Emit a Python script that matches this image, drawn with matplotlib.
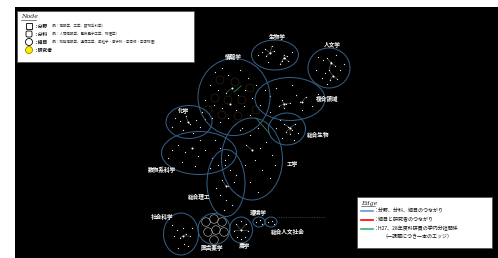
import matplotlib
matplotlib.use("Agg")
import matplotlib.pyplot as plt
from matplotlib.patches import Ellipse, Rectangle, Circle, FancyBboxPatch

plt.rcParams['font.family'] = ['Noto Sans CJK JP', 'DejaVu Sans']

# ---- cluster (分野) ellipses: name, centre x, centre y, width, height ----
cluster_names = ["生物学", "人文学", "情報学", "複合領域", "化学", "総合生物",
                 "数物系科学", "工学", "総合理工", "社会科学", "医歯薬学", "農学",
                 "環境学", "総合人文社会"]
cluster_cx = [275, 329, 234, 290, 189, 287, 199, 252, 226, 181, 214, 241, 259, 271]
cluster_cy = [55, 68, 97, 99, 122, 129, 153, 159, 183, 234, 229, 230, 222, 222]
cluster_w = [47, 42, 72, 70, 46, 37, 75, 61, 38, 35, 32, 23, 12, 12]
cluster_h = [30, 40, 77, 43, 33, 32, 43, 82, 67, 42, 31, 26, 10, 10]
label_x = [277, 332, 233, 327, 184, 318, 162, 292, 199, 162, 212, 244, 258, 288]
label_y = [37, 45, 57, 99, 111, 135, 170, 164, 197, 217, 248, 246, 213, 232]

# ---- nodes (細目 / 研究者) ----
bio = [(262,52),(258,55),(265,49),(266,56),(272,46),(274,51),(270,53),(285,58),(282,61),
       (288,61),(284,55),(287,56),(280,64),(292,52),(268,62)]
hum = [(318,57),(323,60),(327,58),(331,62),(335,66),(329,70),(325,73),(333,76),(337,79),
       (330,80),(322,78),(340,70),(344,64),(316,70),(336,55),(327,84)]
info = [(215,72),(222,68),(228,75),(240,70),(248,78),(210,85),(218,90),(226,93),(232,88),
        (238,95),(245,90),(252,98),(205,100),(214,105),(222,108),(230,104),(236,110),
        (244,106),(250,115),(212,118),(220,122),(228,118),(235,124),(242,128),(256,85),(260,105)]
info_sub = [(220,80),(235,82),(250,88),(215,98),(228,100),(242,100),(222,115),(238,116),
            (208,110),(256,110)]
comp = [(265,90),(270,96),(276,88),(282,100),(286,104),(284,108),(290,103),(279,106),
        (296,95),(300,102),(306,97),(312,106),(302,110),(270,112),(292,85),(318,94)]
chem = [(175,118),(180,121),(186,116),(190,124),(196,120),(200,127),(205,119),(183,130),
        (193,133),(172,127),(202,112)]
ibio = [(280,120),(284,124),(288,127),(292,130),(290,134),(286,132),(295,124),(298,133),
        (282,138),(276,128),(294,140)]
math = [(172,150),(178,145),(185,152),(192,148),(198,156),(205,150),(212,158),(220,148),
        (228,155),(182,162),(195,166),(210,168),(225,165),(168,158),(200,140),(215,140)]
eng = [(240,130),(250,135),(258,128),(246,145),(252,150),(260,148),(266,142),(272,155),
       (255,160),(245,165),(262,170),(270,178),(250,182),(258,192),(236,175),(275,165)]
sci = [(218,165),(225,160),(230,170),(222,180),(228,186),(234,182),(220,195),(226,200),
       (232,205),(216,188),(238,195),(224,210)]
soc = [(172,225),(177,230),(183,228),(186,234),(180,238),(190,236),(184,244),(178,248),
       (174,236),(192,228),(188,246)]
med_sub = [(206,222),(214,219),(222,222),(208,232),(216,230),(224,232),(214,240)]
agri = [(241,230),(236,224),(246,224),(234,231),(248,231),(237,237),(245,237),(241,221),(241,239)]
env = [(256,222),(260,220),(262,224)]
hs = [(268,222),(272,221),(274,224)]
hubs = [(270,53),(284,58),(331,63),(333,76),(232,88),(230,104),(284,104),(302,102),
        (188,122),(290,128),(192,148),(252,150),(226,186),(183,236),(241,230)]
green_edges = [((234,92),(241,86)), ((256,118),(269,133))]

all_nodes = bio + hum + info + comp + chem + ibio + math + eng + sci + soc + agri + env + hs

# ---- legends ----
node_rows = [("：分野", "（例：情報学、工学、数物系科学）"),
             ("：分科", "（例：人間情報学、電気電子工学、物理学）"),
             ("：細目", "（例：知能情報学、通信工学、素粒子・原子核・宇宙線・宇宙物理）"),
             ("：研究者", "")]
edge_rows = ["：分野、分科、細目のつながり", "：細目と研究者のつながり",
             "：H27、28年度科研費の学内分担関係"]
edge_note = "（一課題につき一本のエッジ）"
edge_colors = ["#5b9bd5", "#ff0000", "#3cb371"]

W, H = 498, 258
fig = plt.figure(figsize=(W / 100, H / 100), dpi=100)
ax = fig.add_axes([0, 0, 1, 1])
ax.set_xlim(0, W)
ax.set_ylim(H, 0)
ax.axis('off')
fig.patch.set_facecolor('white')

ax.add_patch(Rectangle((15, 7), W - 15, H - 7, facecolor='black', edgecolor='none', zorder=0))

# spoke edges from hubs
for hx, hy in hubs:
    for x, y in all_nodes:
        d = ((x - hx) ** 2 + (y - hy) ** 2) ** 0.5
        if 0 < d < 8:
            ax.plot([hx, x], [hy, y], color='#8a8a8a', lw=0.3, zorder=2)

for (x1, y1), (x2, y2) in green_edges:
    ax.plot([x1, x2], [y1, y2], color='#2e8b57', lw=0.6, zorder=2)

ax.plot([277, 325], [217, 217], color='#666666', lw=0.5, ls=(0, (1, 1.5)), zorder=2)

for x, y in info_sub:
    ax.add_patch(Circle((x, y), 4, facecolor='none', edgecolor='#3a2814', lw=0.4, zorder=2))
for x, y in med_sub:
    ax.add_patch(Circle((x, y), 4.3, facecolor='none', edgecolor='#b0b0b0', lw=0.45, zorder=2))

xs = [p[0] for p in all_nodes]
ys = [p[1] for p in all_nodes]
ax.scatter(xs, ys, s=0.8, color='#eeeeee', linewidths=0, zorder=3)
hx = [p[0] for p in hubs]
hy = [p[1] for p in hubs]
ax.scatter(hx, hy, s=2.0, color='white', linewidths=0, zorder=4)

for name, cx, cy, w, h, lx, ly in zip(cluster_names, cluster_cx, cluster_cy, cluster_w,
                                      cluster_h, label_x, label_y):
    ax.add_patch(Ellipse((cx, cy), w, h, facecolor='none', edgecolor='#345c82', lw=0.75, zorder=5))
    ax.text(lx, ly, name, color='white', fontsize=4.1, fontweight='bold',
            ha='center', va='center', zorder=6)

# Node legend
ax.add_patch(Rectangle((17, 11), 177, 51, facecolor='white', edgecolor='#555555', lw=0.6, zorder=7))
ax.text(21, 17, "Node", fontsize=4.5, style='italic', family='DejaVu Serif',
        color='#222222', va='center', ha='left', zorder=8)
ax.plot([21, 36], [20, 20], color='#222222', lw=0.4, zorder=8)
row_y = [26, 34, 42, 50]
for i, ((lab, ex), yy) in enumerate(zip(node_rows, row_y)):
    if i == 0:
        ax.add_patch(Rectangle((26, yy - 3), 6, 6, facecolor='white', edgecolor='black', lw=0.6, zorder=8))
    elif i == 1:
        ax.add_patch(FancyBboxPatch((26.5, yy - 2.5), 5, 5, boxstyle="round,pad=0.5,rounding_size=1.5",
                                    facecolor='white', edgecolor='black', lw=0.6, zorder=8))
    elif i == 2:
        ax.add_patch(Ellipse((29, yy), 7, 7, facecolor='white', edgecolor='black', lw=0.6, zorder=8))
    else:
        ax.add_patch(Ellipse((29, yy), 7, 7, facecolor='#ffee00', edgecolor='#888800', lw=0.6, zorder=8))
    ax.text(33, yy, lab, fontsize=3.4, fontweight='bold', color='#111111',
            va='center', ha='left', zorder=8)
    if ex:
        ax.text(50, yy, ex, fontsize=2.5, color='#333333', va='center', ha='left', zorder=8)

# Edge legend
ax.add_patch(Rectangle((357, 197), 135, 51, facecolor='white', edgecolor='#555555', lw=0.6, zorder=7))
ax.text(361, 203, "Edge", fontsize=4.5, style='italic', family='DejaVu Serif',
        color='#222222', va='center', ha='left', zorder=8)
ax.plot([361, 375], [206, 206], color='#222222', lw=0.4, zorder=8)
erow_y = [211, 220, 229]
for txt, c, yy in zip(edge_rows, edge_colors, erow_y):
    ax.plot([361, 373], [yy, yy], color=c, lw=1.2, zorder=8)
    ax.text(374, yy, txt, fontsize=3.6, color='#111111', va='center', ha='left', zorder=8)
ax.text(382, 237, edge_note, fontsize=3.6, color='#111111', va='center', ha='left', zorder=8)

fig.savefig("out.png", dpi=100, facecolor='white')
